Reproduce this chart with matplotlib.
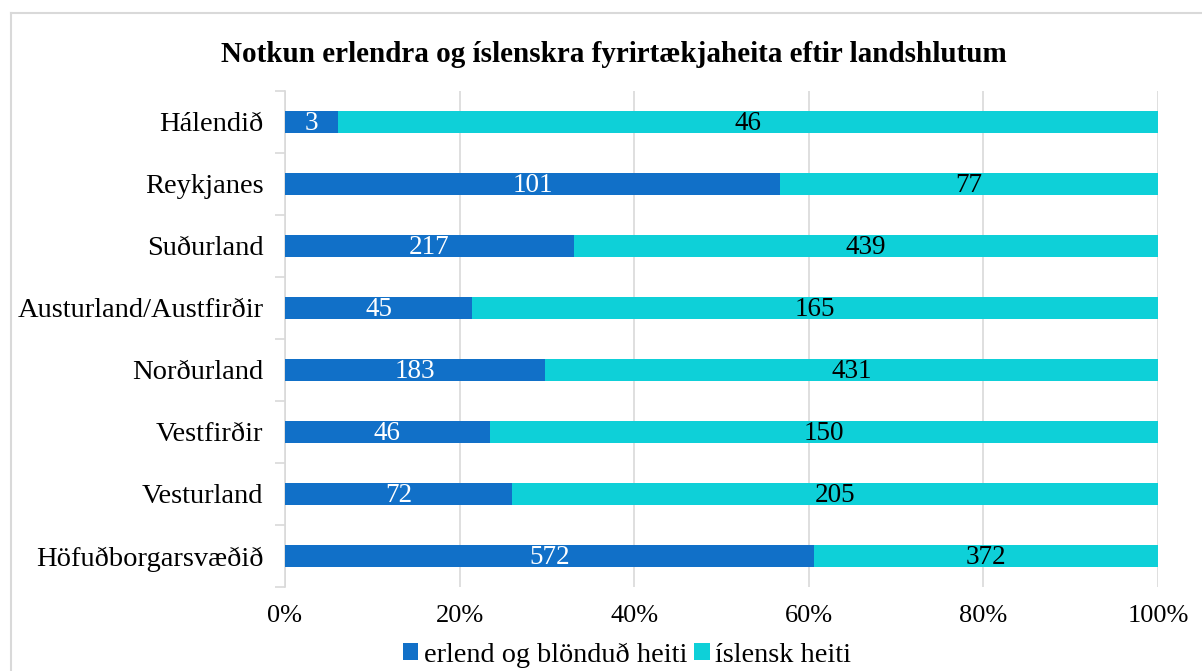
import matplotlib.pyplot as plt
import numpy as np
from matplotlib.lines import Line2D

# data, bottom to top as drawn
regions = ["Höfuðborgarsvæðið", "Vesturland", "Vestfirðir", "Norðurland",
           "Austurland/Austfirðir", "Suðurland", "Reykjanes", "Hálendið"]
erlend = [572, 72, 46, 183, 45, 217, 101, 3]
islensk = [372, 205, 150, 431, 165, 439, 77, 46]
x_ticks = [0, 20, 40, 60, 80, 100]
x_ticklabels = ["0%", "20%", "40%", "60%", "80%", "100%"]

col_erl = "#1170C8"
col_isl = "#0ED0D8"
grid_col = "#D9D9D9"

plt.rcParams["font.family"] = ["Liberation Serif", "DejaVu Serif"]

erl = np.array(erlend, dtype=float)
isl = np.array(islensk, dtype=float)
tot = erl + isl
erl_pct = erl / tot * 100
isl_pct = isl / tot * 100
y = np.arange(len(regions))

fig = plt.figure(figsize=(12.02, 6.71), dpi=100)
ax = fig.add_axes([0.2371, 0.1252, 0.7263, 0.7392])

ax.barh(y, erl_pct, height=0.355, color=col_erl, label="erlend og blönduð heiti", zorder=3)
ax.barh(y, isl_pct, left=erl_pct, height=0.355, color=col_isl, label="íslensk heiti", zorder=3)

for i in range(len(regions)):
    ax.text(erl_pct[i] / 2, y[i] - 0.03, str(erlend[i]), ha="center", va="center",
            color="white", fontsize=19.5, zorder=4)
    ax.text(erl_pct[i] + isl_pct[i] / 2, y[i] - 0.03, str(islensk[i]), ha="center",
            va="center", color="black", fontsize=19.5, zorder=4)

ax.set_xlim(0, 100)
ax.set_ylim(-0.5, len(regions) - 0.5)
ax.set_xticks(x_ticks)
ax.set_xticklabels(x_ticklabels, fontsize=19)
ax.set_yticks(y)
ax.set_yticklabels(regions, fontsize=20.5)
ax.set_yticks(np.arange(-0.5, len(regions)), minor=True)
ax.tick_params(axis="y", which="major", length=0, pad=15.5)
ax.tick_params(axis="y", which="minor", length=7, color=grid_col, width=1.2)
ax.tick_params(axis="x", length=0, pad=13)
ax.grid(axis="x", color=grid_col, linewidth=1.2, zorder=0)
for s in ["top", "right", "bottom"]:
    ax.spines[s].set_visible(False)
ax.spines["left"].set_color(grid_col)
ax.spines["left"].set_linewidth(1.2)

fig.text(0.511, 0.919, "Notkun erlendra og íslenskra fyrirtækjaheita eftir landshlutum",
         ha="center", va="center", fontsize=21, fontweight="bold")

fig.legend(loc="center", bbox_to_anchor=(0.5216, 0.024), ncol=2, frameon=False,
           fontsize=20.3, handlelength=0.55, handleheight=0.55, handletextpad=0.2,
           columnspacing=0.25)

# chart area border (top and left edges visible)
fig.add_artist(Line2D([11 / 1202, 11 / 1202], [0, 1 - 13 / 671], color=grid_col, lw=1.5,
                      transform=fig.transFigure))
fig.add_artist(Line2D([11 / 1202, 1], [1 - 13 / 671, 1 - 13 / 671], color=grid_col, lw=1.5,
                      transform=fig.transFigure))

fig.savefig("out.png", dpi=100)
